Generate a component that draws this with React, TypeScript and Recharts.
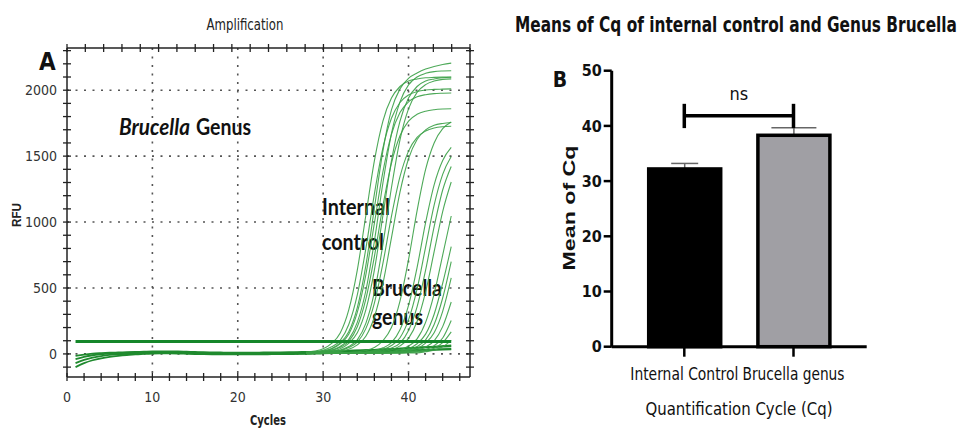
import React from "react";
import {
  LineChart,
  Line,
  XAxis,
  YAxis,
  CartesianGrid,
  BarChart,
  Bar,
  ReferenceLine,
} from "recharts";

const NARROW = "'Liberation Sans Narrow', 'DejaVu Sans Condensed', sans-serif";
const SANS = "'Liberation Sans', Arial, sans-serif";
const CALI = "Lato, 'Open Sans', sans-serif";

// ---------- Panel A: amplification (RFU per cycle) ----------
const cycles = Array.from({ length: 45 }, (_, i) => i + 1);
const threshold = 95;
const tailStart = 28; // tails below hold cycles 28..45

// baseline / negative traces, cycles 1..45
const baseline1 = [-100, -70, -48, -33, -22, -14, -8, -4, 0, 3, 4, 4, 3, 1, -1, -2, -3, -4, -4, -4, -4, -3, -3, -2, -2, -1, 0, 1, 2, 4, 6, 8, 10, 12, 14, 16, 18, 20, 22, 24, 26, 28, 30, 32, 34];
const baseline2 = [-70, -45, -28, -16, -8, -3, 1, 4, 7, 9, 10, 10, 8, 6, 4, 2, 1, 0, -1, -1, -1, 0, 0, 1, 1, 2, 3, 4, 6, 8, 10, 12, 14, 16, 18, 20, 22, 24, 26, 28, 30, 32, 34, 36, 38];
const baseline3 = [-40, -22, -10, -3, 2, 5, 8, 10, 12, 14, 15, 15, 14, 12, 10, 8, 7, 6, 5, 5, 5, 5, 6, 6, 7, 8, 9, 10, 12, 14, 16, 19, 22, 25, 28, 31, 34, 37, 40, 43, 46, 49, 52, 55, 58];
const baseline4 = [-15, -5, 2, 6, 9, 11, 13, 15, 17, 19, 20, 20, 19, 17, 15, 13, 12, 11, 10, 10, 10, 10, 11, 11, 12, 13, 14, 15, 16, 18, 20, 22, 24, 26, 28, 31, 34, 37, 40, 44, 48, 52, 56, 60, 64];

// internal control curves, cycles 28..45
const ic1 = [14, 22, 40, 80, 159, 334, 636, 1050, 1464, 1766, 1940, 2028, 2069, 2085, 2094, 2097, 2099, 2100];
const ic2 = [12, 17, 28, 54, 103, 223, 448, 798, 1212, 1562, 1787, 1907, 1964, 1990, 2002, 2006, 2008, 2010];
const ic3 = [11, 14, 23, 42, 84, 168, 351, 670, 1105, 1540, 1850, 2010, 2090, 2130, 2160, 2180, 2195, 2205];
const ic4 = [10, 12, 17, 30, 57, 110, 239, 479, 854, 1296, 1671, 1911, 2040, 2100, 2128, 2141, 2146, 2148];
const ic5 = [9, 11, 14, 22, 40, 80, 160, 334, 636, 1050, 1464, 1766, 1940, 2028, 2069, 2085, 2094, 2098];
const ic6 = [10, 12, 16, 27, 51, 95, 206, 415, 738, 1122, 1445, 1654, 1765, 1817, 1841, 1852, 1857, 1859];
const ic7 = [9, 9, 11, 16, 25, 48, 89, 192, 386, 687, 1043, 1344, 1538, 1642, 1690, 1713, 1723, 1727];
const ic8 = [10, 10, 12, 17, 29, 56, 107, 232, 466, 830, 1260, 1624, 1858, 1983, 2042, 2069, 2082, 2086];
const ic9 = [11, 14, 21, 38, 76, 150, 315, 600, 990, 1380, 1665, 1830, 1912, 1950, 1966, 1974, 1977, 1979];
const ic10 = [8, 9, 10, 13, 20, 35, 69, 134, 280, 533, 880, 1227, 1480, 1626, 1699, 1734, 1748, 1755];

// Brucella genus curves, cycles 28..45
const bru1 = [8, 8, 8, 8, 9, 11, 16, 26, 49, 100, 200, 401, 715, 1085, 1399, 1600, 1708, 1759];
const bru2 = [8, 8, 8, 8, 8, 9, 11, 15, 25, 46, 85, 183, 368, 655, 995, 1282, 1467, 1566];
const bru3 = [8, 8, 8, 8, 8, 8, 10, 13, 19, 33, 64, 123, 258, 491, 810, 1129, 1362, 1497];
const bru4 = [8, 8, 8, 8, 8, 8, 9, 11, 15, 24, 45, 82, 178, 357, 635, 965, 1243, 1422];
const bru5 = [8, 8, 8, 8, 8, 8, 8, 9, 12, 18, 32, 61, 118, 246, 470, 775, 1080, 1304];
const bru6 = [8, 8, 8, 8, 8, 8, 8, 8, 9, 12, 18, 31, 60, 114, 239, 455, 750, 1046];
const bru7 = [8, 8, 8, 8, 8, 8, 8, 8, 8, 11, 14, 22, 39, 77, 150, 301, 536, 814];
const bru8 = [8, 8, 8, 8, 8, 8, 8, 8, 8, 8, 12, 17, 29, 56, 106, 223, 424, 700];
const bru9 = [8, 8, 8, 8, 8, 8, 8, 8, 8, 8, 11, 14, 23, 41, 82, 161, 323, 576];
const bru10 = [8, 8, 8, 8, 8, 8, 8, 8, 8, 8, 8, 12, 17, 28, 53, 99, 207, 394];
const bru11 = [8, 8, 8, 8, 8, 8, 8, 8, 8, 8, 8, 8, 13, 19, 32, 63, 121, 254];
const bru12 = [8, 8, 8, 8, 8, 8, 8, 8, 8, 8, 8, 8, 11, 15, 23, 43, 85, 167];
const bru13 = [8, 8, 8, 8, 8, 8, 8, 8, 8, 8, 8, 8, 8, 8, 17, 28, 54, 103];

const xTicksA = Array.from({ length: 24 }, (_, i) => i * 2);
const yTicksA = Array.from({ length: 25 }, (_, i) => -100 + i * 100);

const baselines: Record<string, number[]> = { bl1: baseline1, bl2: baseline2, bl3: baseline3, bl4: baseline4 };
const tails: Record<string, number[]> = {
  ic1, ic2, ic3, ic4, ic5, ic6, ic7, ic8, ic9, ic10,
  bru1, bru2, bru3, bru4, bru5, bru6, bru7, bru8, bru9, bru10, bru11, bru12, bru13,
};

const ampRows = cycles.map((c, i) => {
  const row: Record<string, number | undefined> = { cycle: c, thr: threshold };
  Object.entries(baselines).forEach(([k, arr]) => (row[k] = arr[i]));
  Object.entries(tails).forEach(([k, arr]) => (row[k] = c >= tailStart ? arr[c - tailStart] : undefined));
  return row;
});

// ---------- Panel B: mean Cq ----------
const cqCategories = ["Internal Control", "Brucella genus"];
const cqMeans = [32.2, 38.3];
const cqErrUp = [1.0, 1.35];
const bracket = { y: 41.85, low: 39.6, high: 44.0 };

const cqFills = ["#000000", "#a09fa4"];
const cqCapWidths = [27, 45];
const cqLabelWidths = [108, 102];

const cqRows = cqCategories.map((name, i) => ({ name, mean: cqMeans[i], err: cqErrUp[i] }));

// ---------- tick renderers ----------
const tickColor = "#333";

const LeftTickA = (props: any) => {
  const { x, y, payload } = props;
  const v = payload.value;
  return (
    <g>
      <line x1={x - 4} x2={x + 4} y1={y} y2={y} stroke="#222" strokeWidth={1.3} />
      {v % 500 === 0 && (
        <text x={x - 10} y={y + 5} textAnchor="end" fontFamily={NARROW} fontSize={14} fill={tickColor}>
          {v}
        </text>
      )}
    </g>
  );
};

const RightTickA = (props: any) => {
  const { x, y } = props;
  return <line x1={x - 4} x2={x + 4} y1={y} y2={y} stroke="#222" strokeWidth={1.3} />;
};

const BottomTickA = (props: any) => {
  const { x, y, payload } = props;
  const v = payload.value;
  return (
    <g>
      <line x1={x} x2={x} y1={y - 4} y2={y + 4} stroke="#222" strokeWidth={1.3} />
      {v % 10 === 0 && (
        <text x={x} y={y + 25} textAnchor="middle" fontFamily={NARROW} fontSize={14} fill={tickColor}>
          {v}
        </text>
      )}
    </g>
  );
};

const TopTickA = (props: any) => {
  const { x, y } = props;
  return <line x1={x} x2={x} y1={y - 4} y2={y + 4} stroke="#222" strokeWidth={1.3} />;
};

const CqCategoryTick = (props: any) => {
  const { x, y, payload, index } = props;
  return (
    <text
      x={x}
      y={y + 12}
      textAnchor="middle"
      fontFamily={NARROW}
      fontSize={17}
      fill="#111"
      textLength={cqLabelWidths[index]}
      lengthAdjust="spacingAndGlyphs"
    >
      {payload.value}
    </text>
  );
};

const CqBarShape = (props: any) => {
  const { x, y, width, height, index, payload } = props;
  const errPx = (height * payload.err) / payload.mean;
  const cx = x + width / 2;
  const capW = cqCapWidths[index];
  return (
    <g>
      <line x1={cx} x2={cx} y1={y} y2={y - errPx} stroke="#666" strokeWidth={1.5} />
      <line x1={cx - capW / 2} x2={cx + capW / 2} y1={y - errPx} y2={y - errPx} stroke="#666" strokeWidth={1.5} />
      <rect x={x} y={y} width={width} height={height} fill={cqFills[index]} stroke="#000" strokeWidth={3.5} />
    </g>
  );
};

export default function App() {
  return (
    <div style={{ position: "absolute", left: 0, top: 0, width: 963, height: 428, background: "#fff" }}>
      <div style={{ position: "absolute", left: 0, top: 0 }}>
        <LineChart width={480} height={428} data={ampRows} margin={{ top: 47, right: 9, bottom: 50, left: 66 }}>
          <CartesianGrid
            stroke="#555"
            strokeDasharray="2 6.5"
            strokeWidth={1.6}
            horizontalValues={[0, 500, 1000, 1500, 2000]}
            verticalValues={[10, 20, 30, 40]}
          />
          <XAxis
            dataKey="cycle"
            type="number"
            domain={[0, 47.2]}
            ticks={xTicksA}
            interval={0}
            allowDataOverflow
            height={1}
            tickLine={false}
            tickSize={0}
            tickMargin={0}
            tick={BottomTickA}
            axisLine={{ stroke: "#222", strokeWidth: 1.5 }}
          />
          <XAxis
            xAxisId="top"
            orientation="top"
            type="number"
            domain={[0, 47.2]}
            ticks={xTicksA}
            interval={0}
            allowDataOverflow
            height={1}
            tickLine={false}
            tickSize={0}
            tickMargin={0}
            tick={TopTickA}
            axisLine={{ stroke: "#222", strokeWidth: 1.5 }}
          />
          <YAxis
            type="number"
            domain={[-175, 2320]}
            ticks={yTicksA}
            interval={0}
            allowDataOverflow
            width={1}
            tickLine={false}
            tickSize={0}
            tickMargin={0}
            tick={LeftTickA}
            axisLine={{ stroke: "#222", strokeWidth: 1.5 }}
          />
          <YAxis
            yAxisId="right"
            orientation="right"
            type="number"
            domain={[-175, 2320]}
            ticks={yTicksA}
            interval={0}
            allowDataOverflow
            width={1}
            tickLine={false}
            tickSize={0}
            tickMargin={0}
            tick={RightTickA}
            axisLine={{ stroke: "#222", strokeWidth: 1.5 }}
          />
          {Object.keys(baselines).map((k) => (
            <Line key={k} dataKey={k} type="monotone" dot={false} stroke="#1f8a2e" strokeWidth={1.8} isAnimationActive={false} />
          ))}
          {Object.keys(tails).map((k) => (
            <Line key={k} dataKey={k} type="monotone" dot={false} stroke="#3aa046" strokeOpacity={0.9} strokeWidth={1.1} isAnimationActive={false} />
          ))}
          <Line dataKey="thr" type="linear" dot={false} stroke="#15872a" strokeWidth={3} isAnimationActive={false} />

          <text x={245} y={30} textAnchor="middle" fontFamily={NARROW} fontSize={15} fill="#222" textLength={77} lengthAdjust="spacingAndGlyphs">
            Amplification
          </text>
          <text x={39} y={70} fontFamily={NARROW} fontWeight="bold" fontSize={24} fill="#111">
            A
          </text>
          <text x={0} y={0} transform="translate(21,215) rotate(-90)" textAnchor="middle" fontFamily={SANS} fontWeight="bold" fontSize={12} fill="#222" textLength={24} lengthAdjust="spacingAndGlyphs">
            RFU
          </text>
          <text x={268} y={425} textAnchor="middle" fontFamily={NARROW} fontWeight="bold" fontSize={13.5} fill="#222" textLength={36} lengthAdjust="spacingAndGlyphs">
            Cycles
          </text>
          <text x={119} y={135} fontFamily={CALI} fontStyle="italic" fontWeight="bold" fontSize={23} fill="#111" textLength={71} lengthAdjust="spacingAndGlyphs">
            Brucella
          </text>
          <text x={196} y={135} fontFamily={CALI} fontWeight="bold" fontSize={23} fill="#111" textLength={55} lengthAdjust="spacingAndGlyphs">
            Genus
          </text>
          <text x={322} y={215} fontFamily={CALI} fontWeight="bold" fontSize={23} fill="#111" textLength={68} lengthAdjust="spacingAndGlyphs">
            Internal
          </text>
          <text x={322} y={250} fontFamily={CALI} fontWeight="bold" fontSize={23} fill="#111" textLength={62} lengthAdjust="spacingAndGlyphs">
            control
          </text>
          <text x={372} y={296} fontFamily={CALI} fontWeight="bold" fontSize={23} fill="#111" textLength={70} lengthAdjust="spacingAndGlyphs">
            Brucella
          </text>
          <text x={372} y={325} fontFamily={CALI} fontWeight="bold" fontSize={23} fill="#111" textLength={51} lengthAdjust="spacingAndGlyphs">
            genus
          </text>
        </LineChart>
      </div>

      <div style={{ position: "absolute", left: 480, top: 0 }}>
        <BarChart width={483} height={428} data={cqRows} margin={{ top: 70.7, right: 96.3, bottom: 51.3, left: 71.7 }}>
          <XAxis
            dataKey="name"
            height={30}
            padding={{ left: 18, right: 18.6 }}
            interval={0}
            axisLine={{ stroke: "#000", strokeWidth: 3 }}
            tickLine={{ stroke: "#000", strokeWidth: 2.5 }}
            tickSize={10}
            tickMargin={11}
            tick={CqCategoryTick}
          />
          <YAxis
            width={60}
            domain={[0, 50]}
            ticks={[0, 10, 20, 30, 40, 50]}
            interval={0}
            axisLine={{ stroke: "#000", strokeWidth: 3 }}
            tickLine={{ stroke: "#000", strokeWidth: 2.5 }}
            tickSize={8}
            tickMargin={2}
            tick={{ fontFamily: NARROW, fontWeight: "bold", fontSize: 16, fill: "#111" }}
          />
          <Bar dataKey="mean" barSize={72} shape={CqBarShape} isAnimationActive={false} />
          <ReferenceLine
            segment={[{ x: cqCategories[0], y: bracket.y }, { x: cqCategories[1], y: bracket.y }]}
            stroke="#000"
            strokeWidth={3.5}
            ifOverflow="visible"
            label={{ value: "ns", position: "top", offset: 15.7, fontFamily: NARROW, fontSize: 18, fill: "#111" }}
          />
          <ReferenceLine
            segment={[{ x: cqCategories[0], y: bracket.low }, { x: cqCategories[0], y: bracket.high }]}
            stroke="#000"
            strokeWidth={3.5}
            ifOverflow="visible"
          />
          <ReferenceLine
            segment={[{ x: cqCategories[1], y: bracket.low }, { x: cqCategories[1], y: bracket.high }]}
            stroke="#000"
            strokeWidth={3.5}
            ifOverflow="visible"
          />

          <text x={256} y={24.6} transform="scale(1,1.3)" textAnchor="middle" fontFamily={NARROW} fontWeight="bold" fontSize={16} fill="#111" textLength={442} lengthAdjust="spacingAndGlyphs">
            Means of Cq of internal control and Genus Brucella
          </text>
          <text x={72.7} y={87} fontFamily={NARROW} fontWeight="bold" fontSize={21} fill="#111">
            B
          </text>
          <text x={0} y={0} transform="translate(95,208) rotate(-90)" textAnchor="middle" fontFamily={SANS} fontWeight="bold" fontSize={16} fill="#111" textLength={125} lengthAdjust="spacingAndGlyphs">
            Mean of Cq
          </text>
          <text x={259} y={415} textAnchor="middle" fontFamily={NARROW} fontSize={18} fill="#111" textLength={187} lengthAdjust="spacingAndGlyphs">
            Quantification Cycle (Cq)
          </text>
        </BarChart>
      </div>
    </div>
  );
}
